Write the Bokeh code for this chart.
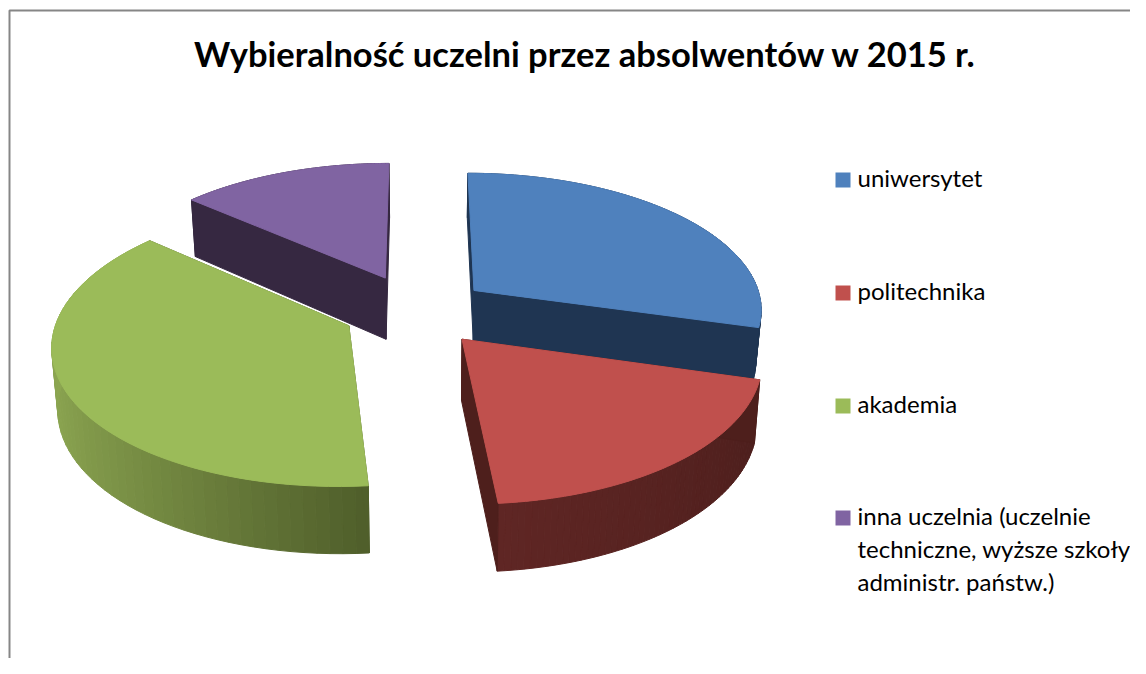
import math
import numpy as np
from bokeh.plotting import figure
from bokeh.models import Range1d, ColumnDataSource
from bokeh.core.properties import value
from bokeh.embed import file_html
from bokeh.resources import INLINE

title = "Wybieralność uczelni przez absolwentów w 2015 r."
categories = ["uniwersytet", "politechnika", "akademia", "inna uczelnia (uczelnie"]
legend_extra = ["techniczne, wyższe szkoły", "administr. państw.)"]
shares = [29.4, 19.2, 37.8, 13.6]
explode = [0.255, 0.24, 0.256, 0.285]
explode_turn = [-3.0, 2.0, 5.0, 0.0]
top_colors = ["#4F81BD", "#C0504D", "#9BBB59", "#8064A2"]
wall_colors = ["#1F3552", "#4E1F1C", "#505F2B", "#362841"]
side_start = ["#1F3552", "#4C1E1C", "#505F2B", "#362841"]
side_end = ["#1F3552", "#5F2624", "#8CA651", "#362841"]
depth_factor = [0.85, 1.0, 1.0, 1.05]
legend_base = [187, 300, 413, 525]
draw_order = [3, 0, 2, 1]

CX, CY, RX, RY, PERSP, DEPTH, VX = 418.0, 312.0, 290.0, 137.0, 0.125, 60.0, 430.0
TEXT_SHIFT = 0.35  # the SVG text sits this fraction of its size below the asked baseline
TITLE_PX, LEGEND_PX = 34.5, 24.0


def hexrgb(c):
    return [int(c[i:i + 2], 16) for i in (1, 3, 5)]


def mix(a, b, t):
    ca, cb = hexrgb(a), hexrgb(b)
    return "#%02x%02x%02x" % tuple(int(round(u + (v - u) * t)) for u, v in zip(ca, cb))


def top_pt(X, Y):
    s = 1.0 / (1.0 + PERSP * Y)
    return CX + RX * X * s, CY - RY * Y * s


def bottom_pt(X, Y, f):
    tx, ty = top_pt(X, Y)
    d = DEPTH * f * (1.0 - 0.11 * Y)
    return VX + (tx - VX) * 0.984, ty + d


xs, ys, cols = [], [], []


def add(px, py, c):
    xs.append(list(px))
    ys.append(list(py))
    cols.append(c)


total = sum(shares)
starts = np.cumsum([0] + shares[:-1]) / total * 360.0
for i in draw_order:
    a0 = starts[i]
    a1 = a0 + shares[i] / total * 360.0
    mid = math.radians((a0 + a1) / 2 + explode_turn[i])
    ox, oy = explode[i] * math.sin(mid), explode[i] * math.cos(mid)
    angs = np.radians(np.linspace(a0, a1, 61))
    W = [(ox + math.sin(t), oy + math.cos(t)) for t in angs]
    f = depth_factor[i]
    # outer wall, as narrow strips so the shade can run along it
    for k in range(len(W) - 1):
        (x0, y0), (x1, y1) = W[k], W[k + 1]
        p0, p1 = top_pt(x0, y0), top_pt(x1, y1)
        b0, b1 = bottom_pt(x0, y0, f), bottom_pt(x1, y1, f)
        frac = (k + 0.5) / (len(W) - 1)
        if i == 2:
            t = (-math.sin(angs[k]) + 0.087) / 1.087
            c = mix(side_start[i], side_end[i], max(0.0, min(1.0, t)))
        elif i == 1:
            c = mix(side_start[i], side_end[i], frac)
        else:
            c = side_start[i]
        add([p0[0], p1[0], b1[0], b0[0]], [p0[1], p1[1], b1[1], b0[1]], c)
    # radial walls
    for (ex, ey) in (W[0], W[-1]):
        a, b = top_pt(ox, oy), top_pt(ex, ey)
        c_, d_ = bottom_pt(ex, ey, f), bottom_pt(ox, oy, f)
        add([a[0], b[0], c_[0], d_[0]], [a[1], b[1], c_[1], d_[1]], wall_colors[i])
    # top face
    pts = [top_pt(ox, oy)] + [top_pt(x, y) for x, y in W]
    add([q[0] for q in pts], [q[1] for q in pts], top_colors[i])

p = figure(width=1130, height=658, x_range=Range1d(0, 1130), y_range=Range1d(658, 0),
           output_backend="svg", toolbar_location=None, min_border=0)
p.axis.visible = False
p.grid.visible = False
p.outline_line_color = None
p.background_fill_color = "white"
p.border_fill_color = "white"

src = ColumnDataSource(dict(xs=xs, ys=ys, c=cols))
p.patches("xs", "ys", source=src, fill_color="c", line_color="c", line_width=1.0)

p.line([9, 9, 1130], [658, 10, 10], line_color="#868686", line_width=2)

p.text([585], [65 - TEXT_SHIFT * TITLE_PX], text=[title], text_font=value("Lato"), text_font_style="bold",
       text_font_size=f"{TITLE_PX}px", text_align="center", text_baseline="alphabetic", text_color="#000000")

legend_dy = TEXT_SHIFT * LEGEND_PX + 1.5
for i, (name, base) in enumerate(zip(categories, legend_base)):
    p.quad(left=[835], right=[850], top=[base - 15], bottom=[base], fill_color=top_colors[i], line_color=None)
    p.text([857], [base - legend_dy], text=[name], text_font=value("Lato"), text_font_size=f"{LEGEND_PX}px",
           text_baseline="alphabetic", text_color="#000000")
for j, line in enumerate(legend_extra):
    p.text([857], [legend_base[-1] - legend_dy + 33 * (j + 1)], text=[line], text_font=value("Lato"),
           text_font_size=f"{LEGEND_PX}px", text_baseline="alphabetic", text_color="#000000")

open("out.html", "w").write(file_html(p, INLINE))
